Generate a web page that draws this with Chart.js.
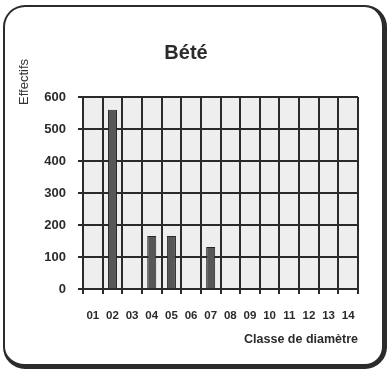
<!DOCTYPE html>
<html>
<head>
<meta charset="utf-8">
<script src="https://cdn.jsdelivr.net/npm/chart.js@4/dist/chart.umd.min.js"></script>
<style>
    html, body { margin: 0; padding: 0; background: #fff; }
    #wrap { position: relative; width: 389px; height: 372px; overflow: hidden; }
    #card {
        position: absolute; left: 3px; top: 5px; width: 377px; height: 357px;
        border: 2px solid #2b2b2b; border-right-width: 5px; border-bottom-width: 5px;
        border-radius: 22px; background: #fff;
    }
    canvas { position: absolute; left: 0; top: 0; }
</style>
</head>
<body>
<div id="wrap">
    <div id="card"></div>
    <canvas id="chart" width="389" height="372"></canvas>
</div>
<script>
const classes = ['01', '02', '03', '04', '05', '06', '07', '08', '09', '10', '11', '12', '13', '14'];
const effectifs = [0, 560, 0, 166, 166, 0, 131, 0, 0, 0, 0, 0, 0, 0];
const yTicks = [0, 100, 200, 300, 400, 500, 600];

const FONT = '"Liberation Sans", Arial, sans-serif';

// grey plot background + the rotated "Effectifs" label sitting above the axis
const plotBackground = {
    id: 'plotBackground',
    beforeDraw(chart) {
        const { ctx, chartArea: a } = chart;
        ctx.save();
        ctx.fillStyle = '#eeeeee';
        ctx.fillRect(a.left, a.top, a.right - a.left, a.bottom - a.top);
        ctx.restore();
    },
    afterDraw(chart) {
        const ctx = chart.ctx;
        ctx.save();
        ctx.translate(24, 82);
        ctx.rotate(-Math.PI / 2);
        ctx.font = '13px ' + FONT;
        ctx.fillStyle = '#333';
        ctx.textAlign = 'center';
        ctx.textBaseline = 'middle';
        ctx.fillText('Effectifs', 0, 0);
        ctx.restore();
    }
};

new Chart(document.getElementById('chart'), {
    type: 'bar',
    data: {
        labels: classes,
        datasets: [{
            data: effectifs,
            backgroundColor: '#575757',
            borderColor: '#262626',
            borderWidth: 1,
            barPercentage: 0.46,
            categoryPercentage: 1
        }]
    },
    options: {
        responsive: false,
        animation: false,
        layout: { padding: { left: 14, right: 31, top: 0, bottom: 0 } },
        plugins: {
            legend: { display: false },
            tooltip: { enabled: false },
            title: {
                display: true,
                text: 'Bété',
                color: '#2b2b2b',
                font: { family: FONT, size: 20, weight: 'bold' },
                padding: { top: 41, bottom: 32 }
            }
        },
        scales: {
            x: {
                grid: { offset: true, color: '#2a2a2a', lineWidth: 2, tickLength: 5, drawTicks: true },
                border: { color: '#2a2a2a', width: 2 },
                ticks: { color: '#2b2b2b', padding: 15, maxRotation: 0, autoSkip: false,
                         font: { family: FONT, size: 11.5, weight: 'bold' } },
                title: {
                    display: true, text: 'Classe de diamètre', align: 'end', color: '#2b2b2b',
                    font: { family: FONT, size: 12.5, weight: 'bold' }, padding: { top: 12, bottom: 25 }
                },
                afterFit(scale) { scale.height = 83; }
            },
            y: {
                min: 0, max: 600,
                afterBuildTicks(scale) { scale.ticks = yTicks.map(v => ({ value: v })); },
                grid: { color: '#2a2a2a', lineWidth: 2, tickLength: 5 },
                border: { color: '#2a2a2a', width: 2 },
                ticks: { color: '#2b2b2b', padding: 12,
                         font: { family: FONT, size: 13, weight: 'bold' } },
                afterFit(scale) { scale.width = 69; }
            }
        }
    },
    plugins: [plotBackground]
});
</script>
</body>
</html>
